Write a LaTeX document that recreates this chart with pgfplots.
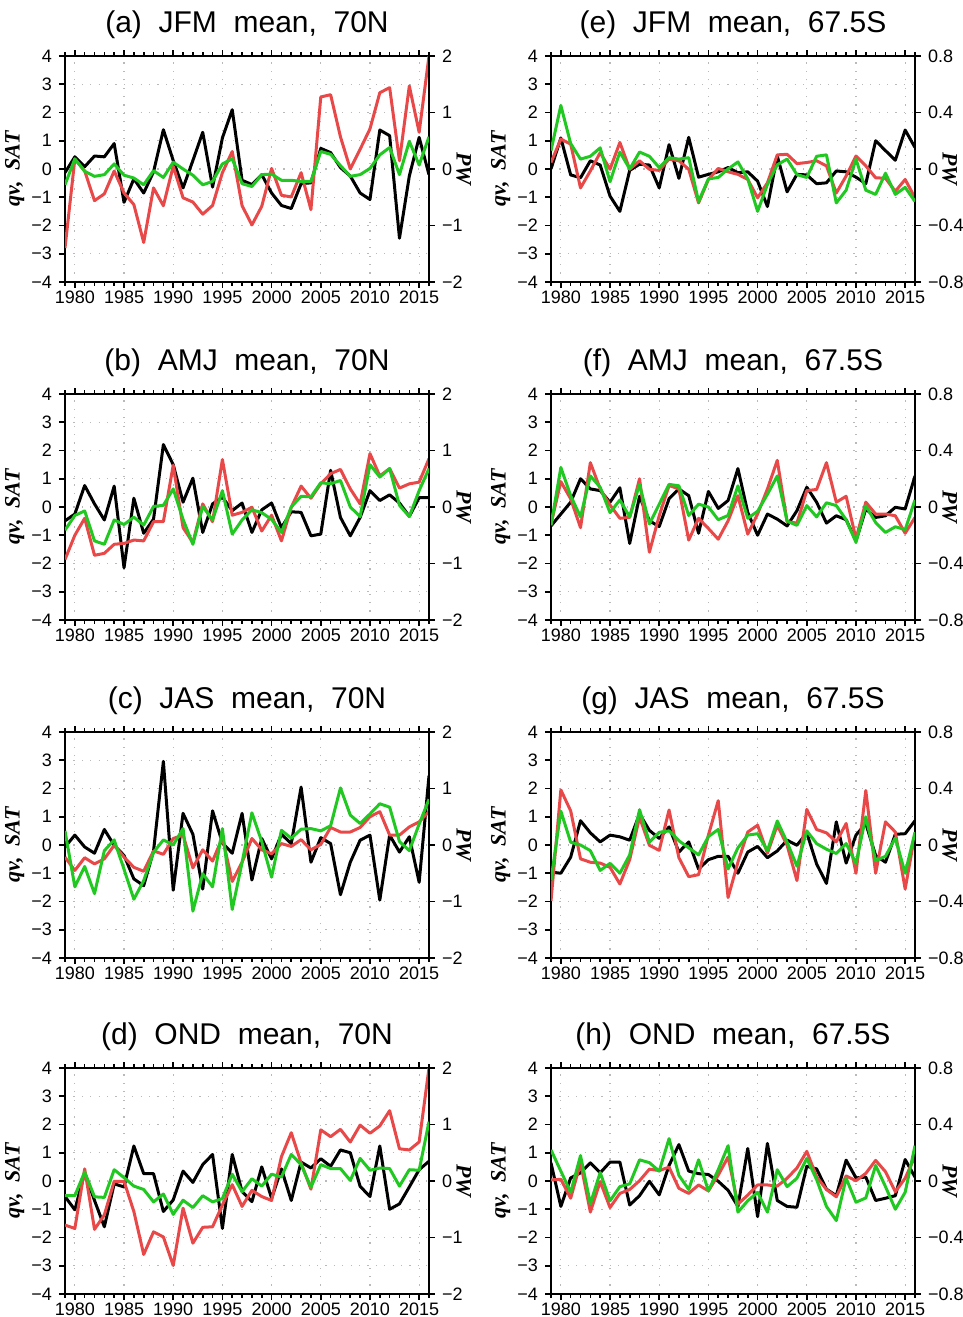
\documentclass[border=0pt]{standalone}
\usepackage{pgfplots}
\pgfplotsset{compat=1.18}
\usepackage{pgfplotstable}
\usepackage{fontspec}
\setmainfont{Liberation Sans}
\newfontfamily\labfont{Liberation Serif}
\definecolor{cred}{RGB}{232,72,72}
\definecolor{cgreen}{RGB}{34,200,34}

\pgfplotstableread{
year qv sat pw
1979 -0.13 -2.80 -0.28
1980 0.43 0.35 0.18
1981 0.08 -0.07 -0.04
1982 0.46 -1.12 -0.13
1983 0.43 -0.88 -0.10
1984 0.90 -0.07 0.09
1985 -1.18 -0.85 -0.11
1986 -0.35 -1.26 -0.16
1987 -0.85 -2.60 -0.28
1988 -0.10 -0.67 -0.03
1989 1.39 -1.30 -0.15
1990 0.30 0.10 0.12
1991 -0.67 -1.02 0.00
1992 0.30 -1.17 -0.11
1993 1.30 -1.60 -0.28
1994 -0.64 -1.29 -0.22
1995 1.10 -0.13 0.09
1996 2.10 0.62 0.18
1997 -0.40 -1.30 -0.26
1998 -0.55 -1.98 -0.31
1999 -0.20 -1.32 -0.10
2000 -0.85 0.02 -0.09
2001 -1.29 -0.93 -0.20
2002 -1.40 -0.99 -0.20
2003 -0.52 -0.13 -0.22
2004 -0.49 -1.44 -0.22
2005 0.73 2.55 0.31
2006 0.58 2.63 0.26
2007 0.05 1.14 0.06
2008 -0.25 0.00 -0.13
2009 -0.85 0.70 -0.10
2010 -1.08 1.42 0.01
2011 1.38 2.70 0.25
2012 1.18 2.88 0.38
2013 -2.45 0.29 -0.10
2014 -0.25 2.94 0.49
2015 1.12 1.30 0.07
2016 -0.20 4.00 0.57
}\tA

\pgfplotstableread{
year qv sat pw
1979 -0.49 -1.86 -0.41
1980 -0.25 -1.00 -0.15
1981 0.76 -0.40 -0.07
1982 0.11 -1.71 -0.60
1983 -0.46 -1.64 -0.66
1984 0.74 -1.32 -0.23
1985 -2.15 -1.29 -0.31
1986 0.31 -1.17 -0.18
1987 -0.93 -1.20 -0.32
1988 -0.43 -0.52 0.01
1989 2.21 -0.52 0.03
1990 1.50 1.48 0.32
1991 0.17 -0.73 -0.22
1992 1.02 -1.26 -0.66
1993 -0.90 0.11 0.01
1994 0.11 -0.52 -0.23
1995 0.35 1.68 0.29
1996 -0.13 -0.29 -0.48
1997 0.14 -0.19 -0.23
1998 -0.90 -0.01 -0.05
1999 -0.10 -0.85 -0.10
2000 0.14 -0.29 -0.22
2001 -0.73 -1.20 -0.45
2002 -0.17 -0.01 0.00
2003 -0.19 0.74 0.19
2004 -1.02 0.31 0.18
2005 -0.96 0.82 0.43
2006 1.30 1.18 0.41
2007 -0.37 1.33 0.47
2008 -1.02 0.64 0.00
2009 -0.37 0.11 -0.17
2010 0.58 1.89 0.75
2011 0.23 1.10 0.53
2012 0.43 1.36 0.68
2013 0.14 0.67 0.03
2014 -0.33 0.82 -0.17
2015 0.33 0.88 0.29
2016 0.33 1.71 0.68
}\tB

\pgfplotstableread{
year qv sat pw
1979 -0.07 -0.43 0.25
1980 0.35 -0.90 -0.74
1981 -0.07 -0.45 -0.38
1982 -0.29 -0.67 -0.86
1983 0.55 -0.49 -0.10
1984 -0.01 -0.01 0.09
1985 -0.37 -0.43 -0.43
1986 -1.20 -0.79 -0.96
1987 -1.44 -0.93 -0.63
1988 -0.21 -0.21 -0.13
1989 2.96 -0.33 0.09
1990 -1.60 0.23 0.00
1991 1.12 0.35 0.29
1992 0.38 -0.81 -1.17
1993 -1.56 -0.17 -0.51
1994 1.21 -0.57 -0.74
1995 0.07 0.26 0.29
1996 -0.29 -1.29 -1.14
1997 1.12 -0.61 -0.31
1998 -1.24 0.23 0.57
1999 0.23 -0.17 0.06
2000 -0.49 -0.31 -0.57
2001 0.38 0.05 0.26
2002 0.05 -0.05 0.12
2003 2.05 0.19 0.28
2004 -0.61 -0.17 0.29
2005 0.26 0.02 0.25
2006 0.05 0.62 0.34
2007 -1.76 0.46 1.01
2008 -0.61 0.46 0.53
2009 0.17 0.62 0.38
2010 0.35 1.00 0.55
2011 -1.95 1.18 0.73
2012 0.35 0.35 0.67
2013 -0.25 0.35 0.06
2014 0.29 0.64 -0.10
2015 -1.32 0.82 0.37
2016 2.45 1.18 0.81
}\tC

\pgfplotstableread{
year qv sat pw
1979 -0.55 -1.56 -0.26
1980 -1.02 -1.68 -0.26
1981 0.29 0.43 0.16
1982 -0.69 -1.71 -0.28
1983 -1.62 -1.20 -0.29
1984 -0.10 -0.01 0.20
1985 -0.21 -0.01 0.06
1986 1.24 -1.08 -0.09
1987 0.26 -2.60 -0.15
1988 0.26 -1.80 -0.37
1989 -1.08 -1.98 -0.23
1990 -0.67 -2.99 -0.59
1991 0.35 -0.96 -0.34
1992 -0.05 -2.20 -0.47
1993 0.58 -1.64 -0.26
1994 0.94 -1.62 -0.37
1995 -1.68 -0.85 -0.31
1996 0.94 -0.13 0.12
1997 -0.37 -0.90 -0.19
1998 -0.73 -0.33 0.04
1999 0.50 -0.55 -0.09
2000 -0.61 -0.69 0.12
2001 0.43 0.86 0.07
2002 -0.69 1.71 0.47
2003 0.67 0.64 0.29
2004 0.46 -0.29 -0.11
2005 0.79 1.81 0.29
2006 0.52 1.57 0.22
2007 1.10 1.83 0.22
2008 1.00 1.38 0.01
2009 -0.19 1.98 0.40
2010 -0.55 1.69 0.19
2011 1.24 1.95 0.23
2012 -1.00 2.49 0.22
2013 -0.81 1.14 -0.09
2014 -0.21 1.10 0.20
2015 0.40 1.38 0.19
2016 0.70 4.00 1.05
}\tD

\pgfplotstableread{
year qv sat pw
1979 0.00 0.23 0.13
1980 1.10 1.06 0.45
1981 -0.21 0.88 0.18
1982 -0.31 -0.67 0.07
1983 0.29 -0.07 0.09
1984 0.14 0.58 0.15
1985 -0.96 -0.01 -0.09
1986 -1.50 0.94 0.12
1987 -0.05 -0.01 0.00
1988 0.17 0.29 0.12
1989 0.14 -0.01 0.09
1990 -0.67 -0.05 0.01
1991 0.86 0.35 0.08
1992 -0.33 0.29 0.07
1993 1.12 -0.01 0.08
1994 -0.29 -1.20 -0.23
1995 -0.19 -0.37 -0.07
1996 -0.10 0.02 -0.06
1997 0.05 -0.10 0.00
1998 -0.13 -0.19 0.05
1999 -0.10 -0.37 -0.07
2000 -0.43 -1.02 -0.30
2001 -1.33 -0.49 -0.11
2002 0.46 0.50 0.03
2003 -0.81 0.52 0.07
2004 -0.19 0.19 -0.04
2005 -0.21 0.23 -0.06
2006 -0.52 0.29 0.09
2007 -0.49 0.11 0.10
2008 -0.07 -0.85 -0.24
2009 -0.10 -0.25 -0.15
2010 -0.29 0.46 0.07
2011 -0.52 0.11 -0.15
2012 1.00 -0.31 -0.18
2013 0.65 -0.33 -0.03
2014 0.31 -0.79 -0.18
2015 1.38 -0.37 -0.13
2016 0.76 -1.02 -0.23
}\tE

\pgfplotstableread{
year qv sat pw
1979 -0.67 -0.61 -0.13
1980 -0.25 0.90 0.28
1981 0.17 0.29 0.08
1982 1.00 -0.73 -0.07
1983 0.64 1.57 0.22
1984 0.58 0.64 0.14
1985 0.17 0.07 -0.04
1986 0.68 -0.40 0.05
1987 -1.29 -0.37 -0.07
1988 0.38 1.00 0.16
1989 -0.49 -1.60 -0.12
1990 -0.69 -0.31 0.02
1991 0.29 0.76 0.16
1992 0.64 0.64 0.15
1993 0.40 -1.17 -0.06
1994 -0.93 -0.40 0.02
1995 0.55 -0.76 0.00
1996 -0.05 -1.14 -0.09
1997 0.23 -0.49 -0.06
1998 1.36 0.40 0.15
1999 -0.19 -0.96 -0.08
2000 -1.00 -0.25 -0.03
2001 -0.25 0.64 0.09
2002 -0.43 1.65 0.22
2003 -0.67 -0.52 -0.10
2004 -0.13 -0.57 -0.13
2005 0.70 0.58 0.01
2006 0.17 0.62 -0.07
2007 -0.57 1.57 0.03
2008 -0.31 0.17 0.01
2009 -0.45 0.38 -0.09
2010 -1.20 -1.12 -0.25
2011 -0.07 0.17 0.01
2012 -0.37 -0.25 -0.11
2013 -0.31 -0.25 -0.18
2014 -0.01 -0.31 -0.14
2015 -0.07 -0.93 -0.16
2016 1.10 -0.37 0.05
}\tF

\pgfplotstableread{
year qv sat pw
1979 -0.96 -1.98 -0.25
1980 -1.00 1.95 0.24
1981 -0.43 1.21 0.02
1982 0.86 -0.49 0.00
1983 0.43 -0.61 -0.04
1984 0.11 -0.64 -0.18
1985 0.35 -0.79 -0.13
1986 0.29 -1.38 -0.20
1987 0.17 -0.52 -0.07
1988 1.10 0.98 0.25
1989 0.52 -0.01 0.02
1990 0.23 -0.19 0.09
1991 0.64 1.24 0.10
1992 -0.25 -0.45 0.03
1993 0.11 -1.12 -0.02
1994 -0.85 -1.05 -0.07
1995 -0.52 0.35 0.06
1996 -0.40 1.57 0.11
1997 -0.40 -1.86 -0.17
1998 -1.00 -0.61 -0.02
1999 -0.25 0.46 0.07
2000 -0.05 0.70 0.08
2001 -0.45 -0.29 -0.04
2002 -0.21 0.70 0.17
2003 0.17 -0.01 0.02
2004 -0.01 -1.26 -0.15
2005 0.43 1.26 0.10
2006 -0.67 0.55 0.01
2007 -1.36 0.43 -0.03
2008 0.82 0.11 -0.06
2009 -0.64 0.76 0.01
2010 0.35 -1.00 -0.13
2011 0.76 1.93 0.20
2012 -0.37 -1.00 -0.11
2013 -0.61 0.82 -0.08
2014 0.38 0.46 0.05
2015 0.40 -1.56 -0.20
2016 0.86 0.40 0.09
}\tG

\pgfplotstableread{
year qv sat pw
1979 0.64 0.04 0.22
1980 -0.90 0.06 0.07
1981 0.11 -0.61 -0.08
1982 0.29 0.64 0.18
1983 0.64 -1.10 -0.16
1984 0.29 -0.02 0.06
1985 0.67 -0.94 -0.14
1986 0.67 -0.44 -0.04
1987 -0.85 -0.30 -0.02
1988 -0.52 0.01 0.15
1989 -0.01 0.42 0.13
1990 -0.49 0.37 0.07
1991 0.55 0.49 0.30
1992 1.29 -0.26 0.04
1993 0.35 -0.44 -0.06
1994 0.26 -0.14 0.15
1995 0.23 -0.35 -0.07
1996 -0.01 0.21 0.08
1997 -0.33 0.85 0.25
1998 -0.90 -0.82 -0.22
1999 1.15 -0.50 -0.14
2000 -1.26 -0.14 -0.08
2001 1.33 -0.14 -0.22
2002 -0.69 -0.18 0.08
2003 -0.90 0.10 -0.04
2004 -0.93 0.46 0.02
2005 0.52 1.05 0.16
2006 0.43 0.15 0.01
2007 -0.29 -0.30 -0.18
2008 -0.52 -0.56 -0.28
2009 0.74 0.18 0.02
2010 0.11 0.01 -0.15
2011 0.14 0.27 -0.12
2012 -0.69 0.73 0.11
2013 -0.61 0.33 -0.04
2014 -0.52 -0.38 -0.20
2015 0.76 0.10 -0.08
2016 0.14 0.87 0.25
}\tH

\pgfplotsset{
  base/.style={scale only axis, width=182pt, height=113pt, xmin=1979, xmax=2016,
    tick align=outside, major tick length=3pt, minor tick length=1.8pt,
    every tick/.style={black, line width=0.8pt},
    axis line style={line width=1pt},
    label style={font=\labfont\bfseries\itshape\fontsize{11}{12}\selectfont},
    tick label style={font=\fontsize{9}{10}\selectfont},
  },
  leftax/.style={base, ymin=-4, ymax=4, ytick={-4,-3,-2,-1,0,1,2,3,4},
    yticklabels={−4,−3,−2,−1,0,1,2,3,4}, ytick pos=left,
    xtick={1980,1985,1990,1995,2000,2005,2010,2015},
    xticklabels={1980,1985,1990,1995,2000,2005,2010,2015},
    minor xtick={1979,1980,...,2016}, xtick pos=both, xticklabel pos=lower,
    xticklabel style={yshift=2.2pt},
    grid=major, major grid style={gray!55, line width=0.6pt, dash pattern=on 0.6pt off 3.6pt},
    ylabel={qv,\ \ SAT}, ylabel style={at={(axis description cs:-0.138,0.5)}, anchor=center},
    title style={font=\fontsize{15}{18}\selectfont, at={(0.5,1)}, anchor=center, yshift=9.5pt},
  },
  rightax/.style={base, axis x line=none, axis y line*=right, ytick pos=right,
    ylabel={PW}, ylabel style={at={(axis description cs:1.095,0.5)}, anchor=center, rotate=180}},
  rn/.style={ymin=-2, ymax=2, ytick={-2,-1,0,1,2}, yticklabels={−2,−1,0,1,2}},
  rs/.style={ymin=-0.8, ymax=0.8, ytick={-0.8,-0.4,0,0.4,0.8}, yticklabels={−0.8,−0.4,0,0.4,0.8}},
  ser/.style={line width=1.5pt, line join=round},
}

\newcommand{\panel}[5]{%
  \begin{axis}[leftax, at={(#1,#2)}, anchor=south west, title={#4}]
    \addplot[ser, black] table[x=year, y=qv]{#3};
    \addplot[ser, cred] table[x=year, y=sat]{#3};
  \end{axis}
  \begin{axis}[rightax, #5, at={(#1,#2)}, anchor=south west]
    \addplot[ser, cgreen] table[x=year, y=pw]{#3};
  \end{axis}}

\begin{document}
\begin{tikzpicture}
\path[use as bounding box] (0,0) rectangle (481.5pt,658.5pt);
\panel{32.5pt}{517.5pt}{\tA}{(a)\ \ JFM\ \ mean,\ \ 70N}{rn}
\panel{32.5pt}{348.5pt}{\tB}{(b)\ \ AMJ\ \ mean,\ \ 70N}{rn}
\panel{32.5pt}{179.5pt}{\tC}{(c)\ \ JAS\ \ mean,\ \ 70N}{rn}
\panel{32.5pt}{11.5pt}{\tD}{(d)\ \ OND\ \ mean,\ \ 70N}{rn}
\panel{275.5pt}{517.5pt}{\tE}{(e)\ \ JFM\ \ mean,\ \ 67.5S}{rs}
\panel{275.5pt}{348.5pt}{\tF}{(f)\ \ AMJ\ \ mean,\ \ 67.5S}{rs}
\panel{275.5pt}{179.5pt}{\tG}{(g)\ \ JAS\ \ mean,\ \ 67.5S}{rs}
\panel{275.5pt}{11.5pt}{\tH}{(h)\ \ OND\ \ mean,\ \ 67.5S}{rs}
\end{tikzpicture}
\end{document}
